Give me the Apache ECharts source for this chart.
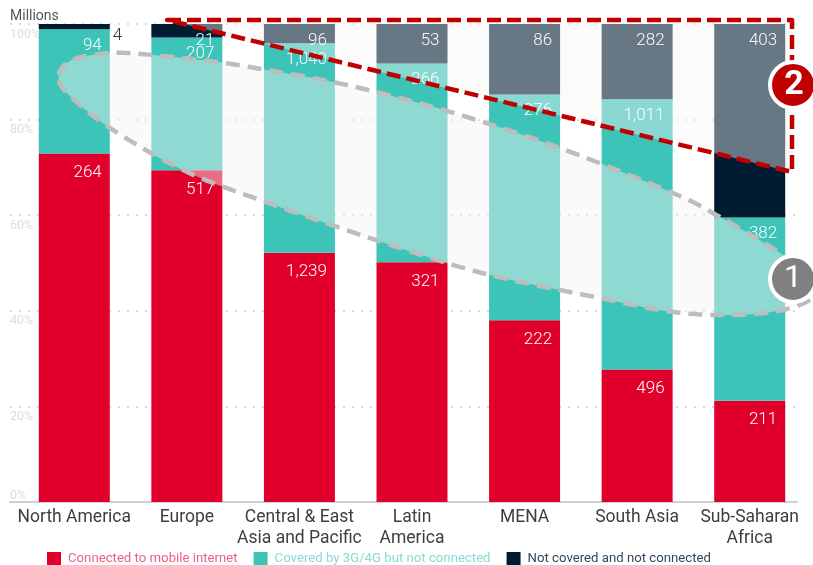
<!DOCTYPE html>
<html><head><meta charset="utf-8">
<style>html,body{margin:0;padding:0;background:#fff}#c{width:813px;height:565px}</style>
<script src="https://cdn.jsdelivr.net/npm/echarts@6/dist/echarts.min.js"></script>
</head><body><div id="c"></div>
<script>
const categories = ['North America','Europe','Central & East\nAsia and Pacific','Latin\nAmerica','MENA','South Asia','Sub-Saharan\nAfrica'];
const connected = [264,517,1239,321,222,496,211];
const covered = [94,207,1040,266,276,1011,382];
const notCovered = [4,21,96,53,86,282,403];
const tickLabels = [0,20,40,60,80,100];
const names = ['Connected to mobile internet','Covered by 3G/4G but not connected','Not covered and not connected'];
const colors = ['#e0002b','#3cc4b8','#001c33'];
const legendText = ['#ec5f7f','#84dcd2','#33475a'];
const FONT = 'Roboto, sans-serif';
const totals = connected.map((v,i)=>v+covered[i]+notCovered[i]);
const labelBase = {show:true,position:'insideTopRight',distance:8,color:'#fff',fontSize:17,fontWeight:300,fontFamily:FONT,
  formatter:p=>p.data.raw.toLocaleString('en-US')};
function mk(name,i,arr,extra){
  return {name,type:'bar',stack:'s',xAxisIndex:1,yAxisIndex:1,barWidth:71,itemStyle:{color:colors[i]},
    label:Object.assign({},labelBase,extra||{}),
    data:arr.map((v,k)=>({value:v/totals[k]*100,raw:v}))};
}
const s1=mk(names[0],0,connected,{padding:[3,0,0,0]});
const s2=mk(names[1],1,covered,{padding:[0,0,0,0]});
const s3=mk(names[2],2,notCovered,{padding:[0,0,0,0]});
s3.data[0].label={position:[74,3],color:'#2d3a45',padding:0};
const chart=echarts.init(document.getElementById('c'),null,{renderer:'canvas'});
const blob=[[59,75],[72,60],[110,53],[153,55],[217,62],[267,70],[333,82],[400,98],[467,117],[560,148],[673,193],[720,217],[783,255],[818,285],
 [813,298],[783,310],[733,315],[673,312],[600,298],[490,275],[400,248],[260,200],[183,170],[110,128],[67,93]];
function closedSpline(p){
  const n=p.length,out=[];
  for(let i=0;i<n;i++){
    const a=p[(i-1+n)%n],b=p[i],c=p[(i+1)%n],e=p[(i+2)%n];
    for(let k=0;k<12;k++){
      const t=k/12,t2=t*t,t3=t2*t;
      out.push([0,1].map(j=>0.5*(2*b[j]+(c[j]-a[j])*t+(2*a[j]-5*b[j]+4*c[j]-e[j])*t2+(3*b[j]-a[j]-3*c[j]+e[j])*t3)));
    }
  }
  return out;
}
chart.setOption({
  animation:false,
  textStyle:{fontFamily:FONT},
  grid:[{left:10,right:16,top:24,bottom:63},{left:18,right:7,top:24,bottom:63}],
  legend:{left:42,top:547,itemWidth:14,itemHeight:14,itemGap:16,icon:'rect',selectedMode:false,
    data:names.map((n,i)=>({name:n,textStyle:{color:legendText[i],fontSize:13.2,fontFamily:FONT,padding:[0,0,0,2]}}))},
  xAxis:[
    {type:'category',gridIndex:0,data:categories.map(()=>''),axisTick:{show:false},axisLabel:{show:false},
     axisLine:{show:true,lineStyle:{color:'#cfcfcf',width:2}}},
    {type:'category',gridIndex:1,data:categories,axisTick:{show:false},axisLine:{show:false},
     axisLabel:{color:'#3a3f45',fontSize:17.5,fontFamily:FONT,lineHeight:21,margin:5,interval:0}}
  ],
  yAxis:[
    {type:'value',gridIndex:0,min:0,max:100,interval:20,
     axisLine:{show:false},axisTick:{show:false},axisLabel:{show:false},
     splitLine:{show:true,lineStyle:{color:'#d9d9d9',type:[2,7],width:2}}},
    {type:'value',gridIndex:1,min:0,max:100,interval:20,splitLine:{show:false},axisLine:{show:false},axisTick:{show:false},
     axisLabel:{inside:true,margin:-8,color:'#dcdcdc',fontSize:12.5,fontFamily:FONT,verticalAlign:'top',verticalAlignMinLabel:'bottom',padding:[4,0,0,0],
       customValues:tickLabels,formatter:v=>v+'%'}}
  ],
  series:[s1,s2,s3],
  graphic:[
    {type:'text',x:10,y:9,style:{text:'Millions',fill:'#4d5862',fontSize:14,fontFamily:FONT}},
    {type:'polygon',z:100,shape:{points:closedSpline(blob)},
     style:{fill:'rgba(245,245,245,0.45)',stroke:'#bdbdbd',lineWidth:4.5,lineDash:[14,8]}},
    {type:'polygon',z:101,shape:{points:[[167,20],[792,20],[792,172]]},
     style:{fill:'rgba(245,245,245,0.42)',stroke:'#c00000',lineWidth:4.5,lineDash:[14,6],lineJoin:'round'}},
    {type:'circle',z:102,shape:{cx:793,cy:279,r:23},style:{fill:'#808080',stroke:'#fff',lineWidth:4}},
    {type:'text',z:103,x:793,y:279,style:{text:'1',fill:'#fff',fontSize:32,fontFamily:FONT,align:'center',verticalAlign:'middle'}},
    {type:'circle',z:102,shape:{cx:793,cy:85,r:23},style:{fill:'#c00000',stroke:'#fff',lineWidth:4}},
    {type:'text',z:103,x:794,y:85,style:{text:'2',fill:'#fff',fontSize:34,fontWeight:'bold',fontFamily:FONT,align:'center',verticalAlign:'middle'}}
  ]
});
</script></body></html>
